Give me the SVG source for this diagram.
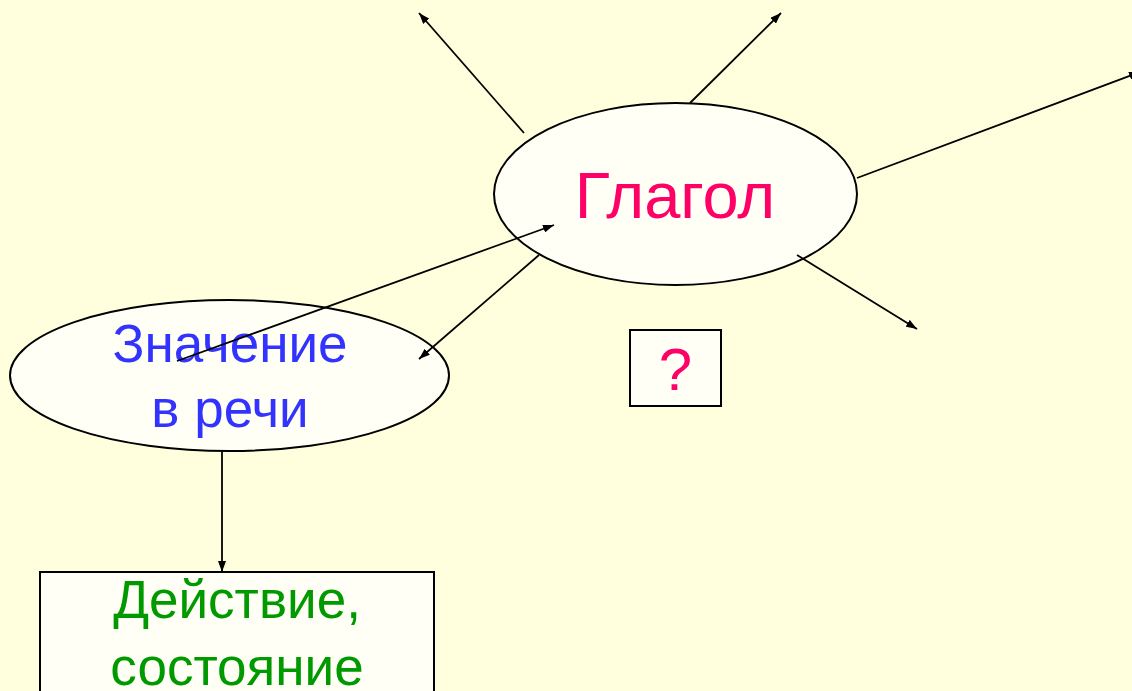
<svg xmlns="http://www.w3.org/2000/svg" width="1132" height="691" viewBox="0 0 1132 691">
<defs>
<marker id="ah" viewBox="0 0 11 8" refX="11" refY="4" markerWidth="11" markerHeight="8" markerUnits="userSpaceOnUse" orient="auto">
<path d="M0,0 L11,4 L0,8 Z" fill="#000"/>
</marker>
<style>
.shape{fill:#FFFFF5;stroke:#000;stroke-width:2}
.conn line{stroke:#000;stroke-width:1.8;marker-end:url(#ah)}
text{font-family:"Liberation Sans",Arial,sans-serif;text-anchor:middle}
</style>
</defs>
<rect x="0" y="0" width="1132" height="691" fill="#FFFFDD"/>
<g id="node-glagol">
<ellipse class="shape" cx="675.5" cy="194" rx="181.5" ry="91"/>
<text x="675" y="218" font-size="65" fill="#FF0066">Глагол</text>
</g>
<g id="node-znachenie">
<ellipse class="shape" cx="229.5" cy="375.5" rx="219.5" ry="75.5"/>
<text x="230" y="362" font-size="53" fill="#3333FF">Значение</text>
<text x="230" y="427" font-size="53" fill="#3333FF">в речи</text>
</g>
<g id="node-question">
<rect class="shape" x="630" y="330" width="91" height="76"/>
<text x="675.5" y="390" font-size="60" fill="#FF0066">?</text>
</g>
<g id="node-deistvie">
<rect class="shape" x="40" y="572" width="394" height="130"/>
<text x="237" y="618" font-size="53" fill="#009900">Действие,</text>
<text x="237" y="685" font-size="53" fill="#009900">состояние</text>
</g>
<g id="connectors" class="conn">
<line x1="524" y1="133" x2="419" y2="13"/>
<line x1="690" y1="103" x2="781" y2="13"/>
<line x1="857" y1="178" x2="1140" y2="72"/>
<line x1="797" y1="255" x2="917" y2="329"/>
<line x1="177" y1="361" x2="554" y2="225"/>
<line x1="539" y1="255" x2="419" y2="359"/>
<line x1="222" y1="451" x2="222" y2="572"/>
</g>
</svg>
